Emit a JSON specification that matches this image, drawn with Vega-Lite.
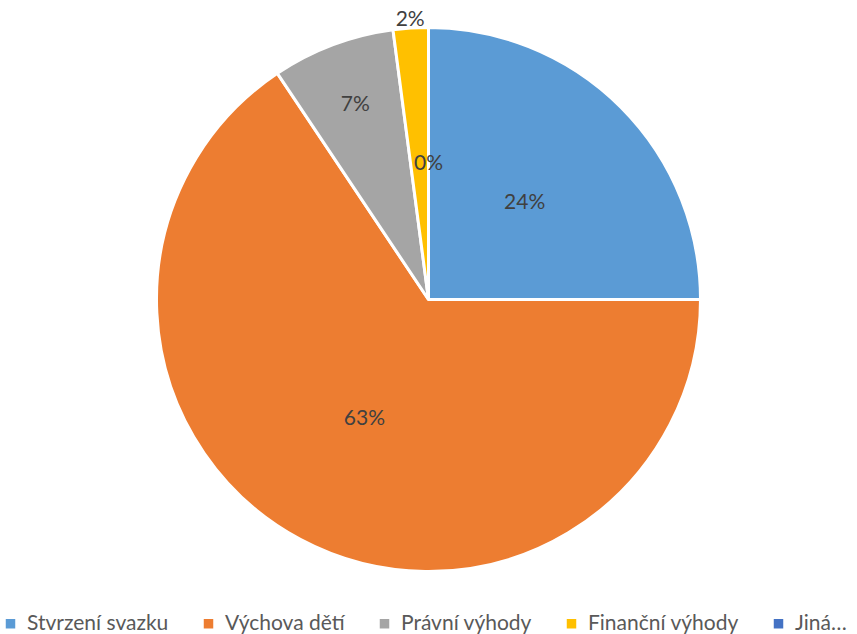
{
  "$schema": "https://vega.github.io/schema/vega-lite/v6.json",
  "autosize": {"type": "fit", "contains": "padding"},
  "width": 857,
  "height": 634,
  "padding": {"top": 0, "left": 0, "right": 0, "bottom": 0},
  "background": "white",
  "config": {"view": {"stroke": null}, "font": "Lato"},
  "data": {
    "values": [
      {"kategorie": "Stvrzení svazku", "hodnota": 24, "poradi": 1, "popisek": "24%"},
      {"kategorie": "Výchova dětí", "hodnota": 63, "poradi": 2, "popisek": "63%"},
      {"kategorie": "Právní výhody", "hodnota": 7, "poradi": 3, "popisek": "7%"},
      {"kategorie": "Finanční výhody", "hodnota": 2, "poradi": 4, "popisek": "2%"},
      {"kategorie": "Jiná…", "hodnota": 0, "poradi": 5, "popisek": "0%"}
    ]
  },
  "encoding": {
    "theta": {"field": "hodnota", "type": "quantitative", "stack": true},
    "order": {"field": "poradi", "type": "quantitative"}
  },
  "layer": [
    {
      "mark": {"type": "arc", "outerRadius": 272, "stroke": "white", "strokeWidth": 3},
      "encoding": {
        "color": {
          "field": "kategorie",
          "type": "nominal",
          "scale": {
            "domain": ["Stvrzení svazku", "Výchova dětí", "Právní výhody", "Finanční výhody", "Jiná…"],
            "range": ["#5B9BD5", "#ED7D31", "#A5A5A5", "#FFC000", "#4472C4"]
          },
          "sort": ["Stvrzení svazku", "Výchova dětí", "Právní výhody", "Finanční výhody", "Jiná…"],
          "legend": {
            "title": null,
            "orient": "bottom",
            "direction": "horizontal",
            "symbolType": "square",
            "symbolSize": 90,
            "symbolStrokeWidth": 0,
            "labelFontSize": 21,
            "labelColor": "#595959",
            "labelFont": "Lato",
            "columnPadding": 29,
            "symbolOffset": 0,
            "labelOffset": 6,
            "offset": 14
          }
        }
      }
    },
    {
      "mark": {"type": "text", "radius": 136, "fontSize": 21, "color": "#404040"},
      "encoding": {"text": {"condition": {"test": "datum.poradi == 1 || datum.poradi == 2 || datum.poradi == 5", "field": "popisek"}, "value": ""}}
    },
    {
      "mark": {"type": "text", "radius": 208, "fontSize": 21, "color": "#404040"},
      "encoding": {"text": {"condition": {"test": "datum.poradi == 3", "field": "popisek"}, "value": ""}}
    },
    {
      "mark": {"type": "text", "radius": 280, "fontSize": 21, "color": "#404040"},
      "encoding": {"text": {"condition": {"test": "datum.poradi == 4", "field": "popisek"}, "value": ""}}
    }
  ]
}
